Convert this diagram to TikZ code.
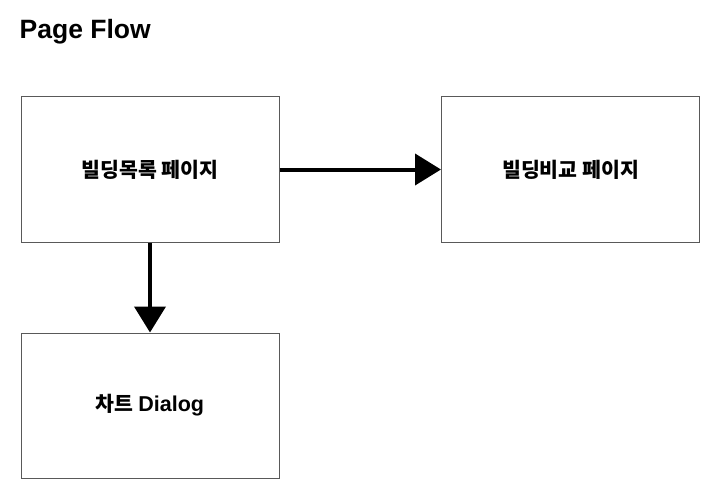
\documentclass[tikz,border=0pt]{standalone}
\usepackage{fontspec}
\setmainfont{Liberation Sans}
\newfontfamily\kofont{Noto Sans CJK KR}
\usetikzlibrary{arrows.meta}
\begin{document}
\begin{tikzpicture}[x=1pt,y=-1pt,
  pagebox/.style={draw=black!65,line width=1pt,minimum width=258pt,minimum height=145pt,inner sep=0pt,fill=white,
    font=\fontsize{20.5}{24}\selectfont\kofont\bfseries},
  flowarrow/.style={line width=4pt,-{Triangle[length=26pt,width=31pt]}}]
\useasboundingbox[fill=white] (0,0) rectangle (722,500);
\node[anchor=base west,inner sep=0pt,font=\fontsize{26.5}{30}\selectfont\bfseries] (title) at (19.5,38.5) {Page Flow};
\node[pagebox] (list) at (150,169.5) {빌딩목록 페이지};
\node[pagebox] (cmp) at (570.5,169.5) {빌딩비교 페이지};
\node[pagebox] (dlg) at (150,405.5) {차트 {\fontspec{Liberation Sans}\bfseries\fontsize{21.5}{24}\selectfont Dialog}};
\draw[flowarrow] (list.east) -- (cmp.west);
\draw[flowarrow] (list.south) -- (dlg.north);
\end{tikzpicture}
\end{document}
